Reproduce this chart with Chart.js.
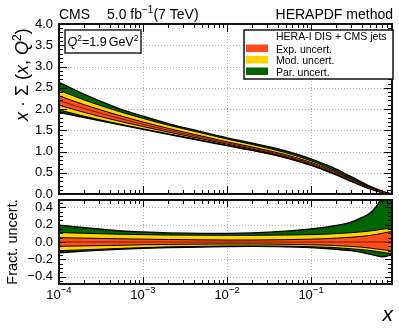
<!DOCTYPE html>
<html><head><meta charset="utf-8">
<script src="https://cdn.jsdelivr.net/npm/chart.js@4.4.0/dist/chart.umd.min.js"></script>
<style>
html,body{margin:0;padding:0;background:#fff;}
#wrap{position:relative;width:399px;height:332px;background:#fff;}
canvas{position:absolute;left:0;top:0;width:399px;height:332px;}
</style></head><body>
<div id="wrap"><canvas id="cTop" width="399" height="332"></canvas><canvas id="cBot" width="399" height="332"></canvas></div>
<script>
// ---- data ----
const xValues = [1e-4, 2e-4, 5e-4, 1e-3, 2e-3, 5e-3, 1e-2, 2e-2, 5e-2, 0.1, 0.15, 0.2, 0.3, 0.4, 0.5, 0.6, 0.7, 0.8, 0.92];
const central = [2.20, 2.01, 1.79, 1.64, 1.50, 1.33, 1.20, 1.08, 0.90, 0.72, 0.59, 0.49, 0.33, 0.22, 0.14, 0.085, 0.045, 0.018, 0.003];
// fractional band edges (cumulative: exp, exp+mod, exp+mod+par)
const expUp = [0.05, 0.045, 0.038, 0.033, 0.029, 0.025, 0.023, 0.023, 0.027, 0.033, 0.038, 0.045, 0.055, 0.065, 0.075, 0.088, 0.10, 0.112, 0.12];
const expDn = [-0.05, -0.045, -0.038, -0.032, -0.028, -0.025, -0.023, -0.023, -0.027, -0.032, -0.036, -0.042, -0.05, -0.06, -0.07, -0.08, -0.088, -0.095, -0.10];
const modUp = [0.11, 0.10, 0.09, 0.085, 0.08, 0.078, 0.077, 0.077, 0.08, 0.085, 0.09, 0.097, 0.107, 0.117, 0.127, 0.137, 0.147, 0.153, 0.15];
const modDn = [-0.10, -0.09, -0.075, -0.065, -0.056, -0.05, -0.047, -0.046, -0.048, -0.055, -0.06, -0.066, -0.078, -0.088, -0.098, -0.108, -0.118, -0.127, -0.13];
const parUp = [0.195, 0.165, 0.13, 0.115, 0.105, 0.10, 0.10, 0.105, 0.125, 0.15, 0.17, 0.19, 0.23, 0.28, 0.33, 0.41, 0.52, 0.65, 0.75];
const parDn = [-0.125, -0.105, -0.085, -0.073, -0.065, -0.058, -0.052, -0.05, -0.054, -0.065, -0.075, -0.085, -0.10, -0.12, -0.14, -0.158, -0.17, -0.165, -0.135];

const topTicks = [0, 0.5, 1.0, 1.5, 2.0, 2.5, 3.0, 3.5, 4.0];
const botTicks = [-0.4, -0.2, 0.0, 0.2, 0.4];
const xTicks = [1e-4, 1e-3, 1e-2, 1e-1];
const xTickBase = '10';
const xTickExp = ['\u22124', '\u22123', '\u22122', '\u22121'];
const legendTitle = 'HERA-I DIS + CMS jets';
const legendLabels = ['Exp. uncert.', 'Mod. uncert.', 'Par. uncert.'];
const COL = {exp: '#ff4d1a', mod: '#ffd500', par: '#006400'};

const FONT = '"Liberation Sans", Arial, Helvetica, sans-serif';
function fnt(s) { return (s.italic ? 'italic ' : '') + s.size + 'px ' + FONT; }
function richText(ctx, segs, x, y, align) {
  let total = 0;
  for (const s of segs) { ctx.font = fnt(s); s.w = ctx.measureText(s.t).width + (s.gap || 0); total += s.w; }
  let cx = align === 'center' ? x - total / 2 : align === 'right' ? x - total : x;
  ctx.textAlign = 'left'; ctx.textBaseline = 'alphabetic';
  for (const s of segs) { ctx.font = fnt(s); ctx.fillText(s.t, cx, y - (s.rise || 0)); cx += s.w; }
}

const topPts = arr => xValues.map((xv, i) => ({x: xv, y: central[i] * (1 + arr[i])}));
const botPts = arr => xValues.map((xv, i) => ({x: xv, y: arr[i]}));

function bandSets(f, centerPts) {
  return [
    {data: centerPts, borderColor: '#7a1800', borderWidth: 1, fill: false},
    {data: f(expUp), fill: '+1', backgroundColor: COL.exp},
    {data: f(expDn), fill: false},
    {data: f(modUp), fill: '+1', backgroundColor: COL.mod},
    {data: f(modDn), fill: false},
    {data: f(parUp), fill: '+1', backgroundColor: COL.par, borderWidth: 1.4},
    {data: f(parDn), fill: false, borderWidth: 1.4}
  ].map(d => Object.assign({pointRadius: 0, borderColor: '#000', borderWidth: 1, cubicInterpolationMode: 'monotone'}, d));
}

function xMinor() {
  const out = [];
  for (let k = -4; k <= -1; k++) for (let m = 1; m <= 9; m++) {
    const v = m * Math.pow(10, k);
    if (v <= 0.92) out.push({v, major: m === 1});
  }
  return out;
}

function drawGrid(chart, yTicks) {
  const {ctx, chartArea: a, scales: {x, y}} = chart;
  ctx.save();
  ctx.strokeStyle = '#b4b4b4'; ctx.lineWidth = 1; ctx.setLineDash([1, 2]);
  ctx.beginPath();
  for (const v of yTicks) { const p = Math.round(y.getPixelForValue(v)) + 0.5; ctx.moveTo(a.left, p); ctx.lineTo(a.right, p); }
  for (const v of xTicks) { const p = Math.round(x.getPixelForValue(v)) + 0.5; ctx.moveTo(p, a.top); ctx.lineTo(p, a.bottom); }
  ctx.stroke();
  ctx.restore();
}

function drawFrame(chart, yStep, yMinorStep, yMin, yMax, majLen, minLen) {
  const {ctx, chartArea: a, scales: {x, y}} = chart;
  ctx.save();
  ctx.strokeStyle = '#000'; ctx.lineWidth = 1;
  ctx.beginPath();
  for (const t of xMinor()) {
    const p = Math.round(x.getPixelForValue(t.v)) + 0.5;
    const L = t.major ? majLen : minLen;
    ctx.moveTo(p, a.bottom); ctx.lineTo(p, a.bottom - L);
    ctx.moveTo(p, a.top); ctx.lineTo(p, a.top + L);
  }
  const n0 = Math.ceil(yMin / yMinorStep - 1e-6), n1 = Math.floor(yMax / yMinorStep + 1e-6);
  const ratio = Math.round(yStep / yMinorStep);
  for (let n = n0; n <= n1; n++) {
    const v = n * yMinorStep;
    const p = Math.round(y.getPixelForValue(v)) + 0.5;
    const L = (n % ratio === 0) ? majLen : minLen;
    ctx.moveTo(a.left, p); ctx.lineTo(a.left + L, p);
    ctx.moveTo(a.right, p); ctx.lineTo(a.right - L, p);
  }
  ctx.stroke();
  ctx.lineWidth = 2;
  ctx.strokeStyle = '#111';
  ctx.strokeRect(a.left, a.top, a.right - a.left, a.bottom - a.top);
  ctx.restore();
}

const yTickCfg = {color: '#000', font: {family: FONT, size: 13}, padding: 6};

const topPlugin = {
  id: 'topDecor',
  beforeDraw(chart) { drawGrid(chart, topTicks); },
  afterDraw(chart) {
    const {ctx} = chart;
    drawFrame(chart, 0.5, 0.1, 0, 4, 8, 4);
    ctx.save();
    ctx.fillStyle = '#000';
    // header
    richText(ctx, [{t: 'CMS', size: 14}], 59, 19, 'left');
    richText(ctx, [{t: '5.0 fb', size: 14}, {t: '\u22121', size: 10, rise: 6}, {t: '(7 TeV)', size: 14}], 107, 19, 'left');
    richText(ctx, [{t: 'HERAPDF method', size: 14}], 393, 19, 'right');
    // Q2 box
    ctx.fillStyle = '#fff'; ctx.fillRect(65, 30, 76, 23);
    ctx.strokeStyle = '#222'; ctx.lineWidth = 1.5; ctx.strokeRect(65, 30, 76, 23);
    ctx.fillStyle = '#000';
    richText(ctx, [{t: 'Q', size: 12.5, italic: true}, {t: '2', size: 8.5, rise: 5}, {t: '=1.9', size: 12.5, gap: 2}, {t: 'GeV', size: 12.5}, {t: '2', size: 8.5, rise: 5}], 103, 46, 'center');
    // legend
    ctx.fillStyle = '#fff'; ctx.fillRect(244, 30, 149, 49);
    ctx.strokeStyle = '#111'; ctx.lineWidth = 1.5; ctx.strokeRect(244, 30, 149, 49);
    ctx.fillStyle = '#000';
    richText(ctx, [{t: legendTitle, size: 10.5}], 276, 40, 'left');
    const cols = [COL.exp, COL.mod, COL.par];
    const sw = [44.5, 56, 67.5];
    const bl = [52.5, 64, 75.5];
    for (let i = 0; i < 3; i++) {
      ctx.fillStyle = cols[i]; ctx.fillRect(246, sw[i], 22, 7.5);
      ctx.fillStyle = '#000';
      richText(ctx, [{t: legendLabels[i], size: 10.5}], 276, bl[i], 'left');
    }
    // y title
    ctx.save();
    ctx.translate(28, 121); ctx.rotate(-Math.PI / 2);
    richText(ctx, [{t: 'x', size: 18, italic: true}, {t: ' \u00b7 ', size: 18}, {t: '\u03a3', size: 18}, {t: ' (', size: 18}, {t: 'x', size: 18, italic: true}, {t: ', ', size: 18}, {t: 'Q', size: 18, italic: true}, {t: '2', size: 12, rise: 7}, {t: ')', size: 18}], 0, 0, 'left');
    ctx.restore();
    ctx.restore();
  }
};

const botPlugin = {
  id: 'botDecor',
  beforeDraw(chart) { drawGrid(chart, botTicks); },
  afterDraw(chart) {
    const {ctx, scales: {x}} = chart;
    drawFrame(chart, 0.2, 0.05, -0.485, 0.485, 7, 4);
    ctx.save();
    ctx.fillStyle = '#000';
    xTicks.forEach((v, i) => {
      const p = x.getPixelForValue(v);
      richText(ctx, [{t: xTickBase, size: 13}, {t: xTickExp[i], size: 9.5, rise: 6}], p, 299, 'center');
    });
    richText(ctx, [{t: 'x', size: 21, italic: true}], 393, 321, 'right');
    ctx.save();
    ctx.translate(16.5, 242); ctx.rotate(-Math.PI / 2);
    richText(ctx, [{t: 'Fract. uncert.', size: 14.5}], 0, 0, 'center');
    ctx.restore();
    ctx.restore();
  }
};

const common = {
  responsive: false, animation: false, events: [],
  plugins: {legend: {display: false}, tooltip: {enabled: false}, filler: {drawTime: 'beforeDatasetsDraw', propagate: false}}
};

new Chart(document.getElementById('cTop'), {
  type: 'line',
  data: {datasets: bandSets(topPts, xValues.map((xv, i) => ({x: xv, y: central[i]})))},
  options: Object.assign({}, common, {
    layout: {padding: {left: 0, right: 7, top: 24, bottom: 138}},
    scales: {
      x: {type: 'logarithmic', min: 1e-4, max: 0.92, display: false},
      y: {type: 'linear', min: 0, max: 4,
          afterFit: s => { s.width = 59; },
          afterBuildTicks: s => { s.ticks = topTicks.map(v => ({value: v})); },
          grid: {display: false, drawTicks: false}, border: {display: false},
          ticks: Object.assign({}, yTickCfg, {callback: v => Number(v).toFixed(1)})}
    }
  }),
  plugins: [topPlugin]
});

new Chart(document.getElementById('cBot'), {
  type: 'line',
  data: {datasets: bandSets(botPts, xValues.map(xv => ({x: xv, y: 0})))},
  options: Object.assign({}, common, {
    layout: {padding: {left: 0, right: 7, top: 200, bottom: 48}},
    scales: {
      x: {type: 'logarithmic', min: 1e-4, max: 0.92, display: false},
      y: {type: 'linear', min: -0.485, max: 0.485,
          afterFit: s => { s.width = 59; },
          afterBuildTicks: s => { s.ticks = botTicks.map(v => ({value: v})); },
          grid: {display: false, drawTicks: false}, border: {display: false},
          ticks: Object.assign({}, yTickCfg, {callback: v => Number(v).toFixed(1).replace('-', '\u2212')})}
    }
  }),
  plugins: [botPlugin]
});
</script>
</body></html>
